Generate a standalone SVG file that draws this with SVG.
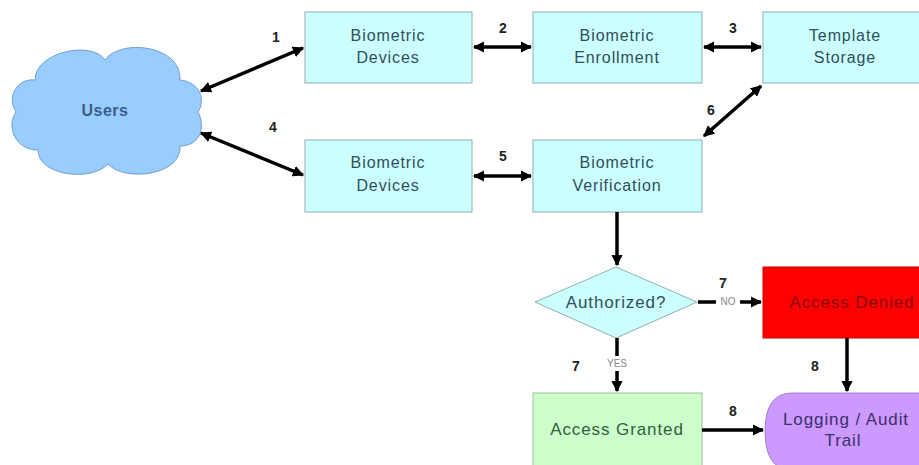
<svg xmlns="http://www.w3.org/2000/svg" width="919" height="465" viewBox="0 0 919 465">
<defs>
<marker id="ah" viewBox="0 0 10 10" refX="9" refY="5" markerWidth="3.2" markerHeight="3.2" orient="auto-start-reverse" markerUnits="strokeWidth">
<path d="M0,0 L10,5 L0,10 Z" fill="#000"/>
</marker>
<style>
.box{fill:#ccffff;stroke:#8fb0b0;stroke-width:1}
.t{font-family:"Liberation Sans",Arial,sans-serif;font-size:16px;letter-spacing:0.9px;fill:#2f4f5a;text-anchor:middle}
.n{font-family:"Liberation Sans",Arial,sans-serif;font-size:14px;font-weight:bold;fill:#222;text-anchor:middle}
.s{font-family:"Liberation Sans",Arial,sans-serif;font-size:10px;fill:#888;text-anchor:middle}
.c{stroke:#000;stroke-width:3.5;fill:none}
</style>
</defs>
<rect width="919" height="465" fill="#ffffff"/>
<g id="users">
<path d="M35,80 C35,52 92,40 105,60 C120,38 182,45 180,80 C200,82 206,100 198,112 C206,128 200,146 180,146 C182,176 124,182 108,164 C92,182 38,176 38,150 C15,150 6,126 16,112 C6,96 18,78 35,80 Z" fill="#99ccff" stroke="#6f9fcf" stroke-width="1"/>
<text class="t" x="105" y="116" style="fill:#3a5f8a;font-weight:bold;letter-spacing:0.5px">Users</text>
</g>
<g id="devices1">
<rect class="box" x="305" y="12" width="167" height="71"/>
<text class="t" x="388" y="41">Biometric</text>
<text class="t" x="388" y="63">Devices</text>
</g>
<g id="enrollment">
<rect class="box" x="533" y="12" width="169" height="71"/>
<text class="t" x="617" y="41">Biometric</text>
<text class="t" x="617" y="63">Enrollment</text>
</g>
<g id="storage">
<rect class="box" x="763" y="12" width="160" height="71"/>
<text class="t" x="845" y="41">Template</text>
<text class="t" x="845" y="63">Storage</text>
</g>
<g id="devices2">
<rect class="box" x="305" y="140" width="167" height="72"/>
<text class="t" x="388" y="168">Biometric</text>
<text class="t" x="388" y="191">Devices</text>
</g>
<g id="verification">
<rect class="box" x="533" y="140" width="169" height="72"/>
<text class="t" x="617" y="168">Biometric</text>
<text class="t" x="617" y="191">Verification</text>
</g>
<g id="authorized">
<polygon points="535,302 616,267 697,302 616,338" fill="#ccffff" stroke="#8fb0b0" stroke-width="1"/>
<text class="t" x="616" y="308" style="font-size:17px">Authorized?</text>
</g>
<g id="denied">
<rect x="763" y="267" width="160" height="71" fill="#ff0000" stroke="#cc0000" stroke-width="1"/>
<text class="t" x="852" y="308" style="fill:#8b0000;font-size:17px">Access Denied</text>
</g>
<g id="granted">
<rect x="533" y="393" width="169" height="76" fill="#ccffcc" stroke="#9fc09f" stroke-width="1"/>
<text class="t" x="617" y="435" style="fill:#2f5f3a;font-size:17px">Access Granted</text>
</g>
<g id="logging">
<path d="M792,393 L923,393 L923,470 L792,470 Q765,470 765,431 Q765,393 792,393 Z" fill="#cc99ff" stroke="#a07fcf" stroke-width="1"/>
<text class="t" x="846" y="425" style="fill:#3a2f6a;font-size:17px">Logging / Audit</text>
<text class="t" x="843" y="446" style="fill:#3a2f6a;font-size:17px">Trail</text>
</g>
<g id="connectors">
<line class="c" x1="201" y1="91" x2="303" y2="48" marker-start="url(#ah)" marker-end="url(#ah)"/>
<line class="c" x1="201" y1="133" x2="303" y2="175" marker-start="url(#ah)" marker-end="url(#ah)"/>
<line class="c" x1="474" y1="47" x2="531" y2="47" marker-start="url(#ah)" marker-end="url(#ah)"/>
<line class="c" x1="704" y1="47" x2="761" y2="47" marker-start="url(#ah)" marker-end="url(#ah)"/>
<line class="c" x1="761" y1="86" x2="704" y2="136" marker-start="url(#ah)" marker-end="url(#ah)"/>
<line class="c" x1="474" y1="176" x2="531" y2="176" marker-start="url(#ah)" marker-end="url(#ah)"/>
<line class="c" x1="617" y1="212" x2="617" y2="265" marker-end="url(#ah)"/>
<line class="c" x1="698" y1="302" x2="716" y2="302"/>
<line class="c" x1="740" y1="302" x2="761" y2="302" marker-end="url(#ah)"/>
<line class="c" x1="617" y1="338" x2="617" y2="356"/>
<line class="c" x1="617" y1="371" x2="617" y2="391" marker-end="url(#ah)"/>
<line class="c" x1="702" y1="430" x2="763" y2="430" marker-end="url(#ah)"/>
<line class="c" x1="847" y1="338" x2="847" y2="391" marker-end="url(#ah)"/>
<text class="s" x="728" y="305">NO</text>
<text class="s" x="617" y="367">YES</text>
<text class="n" x="276" y="42">1</text>
<text class="n" x="503" y="33">2</text>
<text class="n" x="733" y="33">3</text>
<text class="n" x="273" y="132">4</text>
<text class="n" x="503" y="161">5</text>
<text class="n" x="711" y="115">6</text>
<text class="n" x="723" y="288">7</text>
<text class="n" x="576" y="371">7</text>
<text class="n" x="733" y="416">8</text>
<text class="n" x="815" y="371">8</text>
</g>
</svg>
